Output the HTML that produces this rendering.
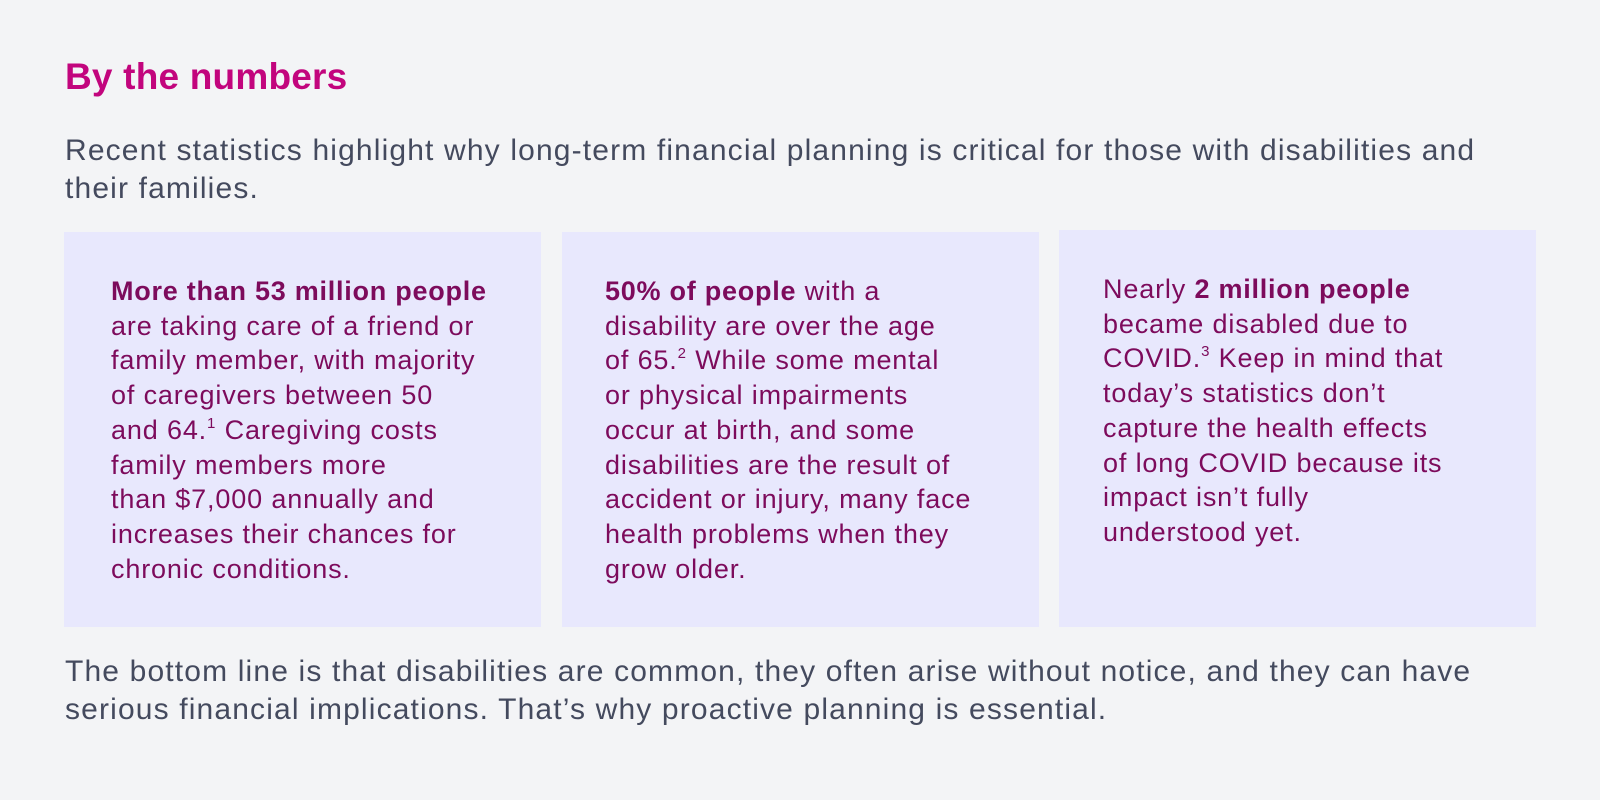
<!DOCTYPE html>
<html><head><meta charset="utf-8"><style>
body{margin:0;width:1600px;height:800px;background:#f3f4f6;font-family:"Liberation Sans",sans-serif;position:relative;overflow:hidden}
.t{position:absolute;left:65px;top:57px;font-size:37px;line-height:40px;font-weight:bold;color:#c2057d;letter-spacing:0.2px}
.p{position:absolute;left:65px;font-size:30px;line-height:38px;color:#444a5e;white-space:nowrap;letter-spacing:1.15px}
.box{position:absolute;background:#e8e8fd;height:395px;width:477px}
.bt{position:absolute;font-size:27px;line-height:34.7px;color:#7d0b5c;white-space:nowrap;letter-spacing:0.85px}
.bt b{font-weight:bold;letter-spacing:0.75px}
sup{font-size:15px;vertical-align:top;line-height:22px}
</style></head><body>
<div class="t">By the numbers</div>
<div class="p" style="top:132px">Recent statistics highlight why long-term financial planning is critical for those with disabilities and<br>their families.</div>
<div class="box" style="left:64px;top:232px"></div>
<div class="box" style="left:562px;top:232px"></div>
<div class="box" style="left:1059px;top:230px;height:397px"></div>
<div class="bt" style="left:111px;top:274px"><b>More than 53 million people</b><br>are taking care of a friend or<br>family member, with majority<br>of caregivers between 50<br>and 64.<sup>1</sup> Caregiving costs<br>family members more<br>than $7,000 annually and<br>increases their chances for<br>chronic conditions.</div>
<div class="bt" style="left:605px;top:274px"><b>50% of people</b> with a<br>disability are over the age<br>of 65.<sup>2</sup> While some mental<br>or physical impairments<br>occur at birth, and some<br>disabilities are the result of<br>accident or injury, many face<br>health problems when they<br>grow older.</div>
<div class="bt" style="left:1103px;top:272px">Nearly <b>2 million people</b><br>became disabled due to<br>COVID.<sup>3</sup> Keep in mind that<br>today’s statistics don’t<br>capture the health effects<br>of long COVID because its<br>impact isn’t fully<br>understood yet.</div>
<div class="p" style="top:653px">The bottom line is that disabilities are common, they often arise without notice, and they can have<br>serious financial implications. That’s why proactive planning is essential.</div>
</body></html>
